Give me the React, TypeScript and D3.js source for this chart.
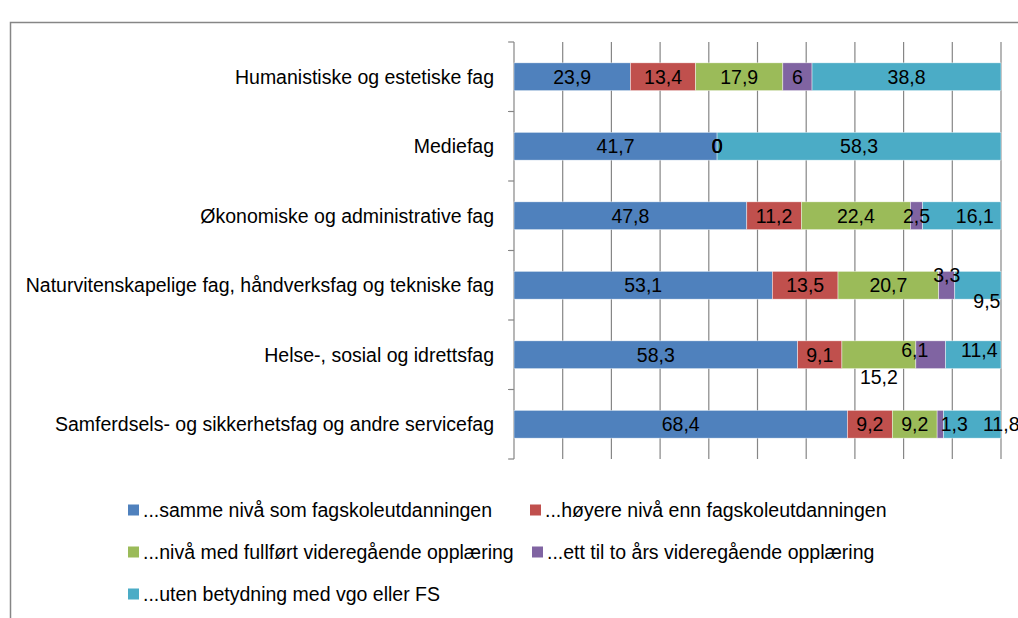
import React, { useEffect, useRef } from "react";
import * as d3 from "d3";

const categories = [
  "Humanistiske og estetiske fag",
  "Mediefag",
  "Økonomiske og administrative fag",
  "Naturvitenskapelige fag, håndverksfag og tekniske fag",
  "Helse-, sosial og idrettsfag",
  "Samferdsels- og sikkerhetsfag og andre servicefag",
];

const seriesNames = [
  "...samme nivå som fagskoleutdanningen",
  "...høyere nivå enn fagskoleutdanningen",
  "...nivå med fullført videregående opplæring",
  "...ett til to års videregående opplæring",
  "...uten betydning med vgo eller FS",
];

const samme = [23.9, 41.7, 47.8, 53.1, 58.3, 68.4];
const hoyere = [13.4, 0, 11.2, 13.5, 9.1, 9.2];
const fullfort = [17.9, 0, 22.4, 20.7, 15.2, 9.2];
const ettTilTo = [6, 0, 2.5, 3.3, 6.1, 1.3];
const utenBetydning = [38.8, 58.3, 16.1, 9.5, 11.4, 11.8];

const colors = ["#4F81BD", "#C0504D", "#9BBB59", "#8064A2", "#4BACC6"];

// manual label nudges (Excel moved some labels to avoid overlap): "row-series" -> [dx, dy]
const labelNudge: Record<string, [number, number]> = {
  "2-4": [13, 0],
  "3-3": [0, -10],
  "3-4": [9, 16],
  "4-2": [0, 22],
  "4-3": [-16, -5],
  "4-4": [6, -5],
  "5-3": [14, 0],
  "5-4": [29, 0],
};

const FONT = "'Liberation Sans', Arial, sans-serif";
const FS = "19.5px";

function App() {
  const ref = useRef<SVGSVGElement>(null);

  useEffect(() => {
    const svg = d3.select(ref.current);
    svg.selectAll("*").remove();

    const width = 1018;
    const height = 618;
    const x0 = 514, x1 = 1001, yTop = 42, yBot = 459;

    svg.attr("width", width).attr("height", height);

    // chart area border
    svg.append("rect")
      .attr("x", 10.5).attr("y", 22.5)
      .attr("width", 1030).attr("height", 620)
      .attr("fill", "#fff").attr("stroke", "#868686").attr("stroke-width", 1.5);

    const series = [samme, hoyere, fullfort, ettTilTo, utenBetydning];
    const rows = categories.map((c, i) => {
      const vals = series.map(s => s[i]);
      return { cat: c, vals, total: d3.sum(vals) };
    });

    const xScale = d3.scaleLinear().domain([0, 100]).range([x0, x1]);
    const yScale = d3.scaleBand().domain(categories).range([yTop, yBot]).paddingInner(0.6).paddingOuter(0.3);
    const yBand = d3.scaleBand().domain(categories).range([yTop, yBot]);

    // gridlines
    svg.append("g").selectAll("line")
      .data(d3.range(10, 101, 10))
      .enter().append("line")
      .attr("x1", d => xScale(d)).attr("x2", d => xScale(d))
      .attr("y1", yTop).attr("y2", yBot)
      .attr("stroke", "#868686").attr("stroke-width", 1.2);

    // left axis with ticks at band boundaries
    svg.append("line")
      .attr("x1", x0).attr("x2", x0).attr("y1", yTop).attr("y2", yBot)
      .attr("stroke", "#868686").attr("stroke-width", 1.2);
    const bounds = categories.map(c => yBand(c) as number).concat([yBot]);
    svg.append("g").selectAll("line")
      .data(bounds)
      .enter().append("line")
      .attr("x1", x0 - 6).attr("x2", x0).attr("y1", d => d).attr("y2", d => d)
      .attr("stroke", "#868686").attr("stroke-width", 1.2);

    // category labels
    svg.append("g").selectAll("text")
      .data(categories)
      .enter().append("text")
      .attr("x", 494)
      .attr("y", d => (yBand(d) as number) + yBand.bandwidth() / 2)
      .attr("dy", "0.35em")
      .attr("text-anchor", "end")
      .style("font-family", FONT).style("font-size", FS).attr("fill", "#000")
      .text(d => d);

    // bars
    const segs: { row: number; s: number; start: number; end: number; v: number; cat: string }[] = [];
    rows.forEach((r, i) => {
      let acc = 0;
      r.vals.forEach((v, s) => {
        const p = (v / r.total) * 100;
        segs.push({ row: i, s, start: acc, end: acc + p, v, cat: r.cat });
        acc += p;
      });
    });

    svg.append("g").selectAll("rect")
      .data(segs.filter(d => d.v > 0))
      .enter().append("rect")
      .attr("x", d => xScale(d.start))
      .attr("y", d => yScale(d.cat) as number)
      .attr("width", d => xScale(d.end) - xScale(d.start))
      .attr("height", yScale.bandwidth())
      .attr("fill", d => colors[d.s])
      .attr("stroke", "#ffffff").attr("stroke-width", 0.6).attr("stroke-opacity", 0.7);

    // data labels
    svg.append("g").selectAll("text")
      .data(segs)
      .enter().append("text")
      .attr("x", d => (xScale(d.start) + xScale(d.end)) / 2 + (labelNudge[`${d.row}-${d.s}`]?.[0] ?? 0))
      .attr("y", d => (yScale(d.cat) as number) + yScale.bandwidth() / 2 + (labelNudge[`${d.row}-${d.s}`]?.[1] ?? 0))
      .attr("dy", "0.35em")
      .attr("text-anchor", "middle")
      .style("font-family", FONT).style("font-size", FS).attr("fill", "#000")
      .text(d => String(d.v).replace(".", ","));

    // legend
    const legendPos = [[128, 510], [530, 510], [128, 552], [532, 552], [128, 594]];
    const lg = svg.append("g").selectAll("g")
      .data(seriesNames)
      .enter().append("g")
      .attr("transform", (d, i) => `translate(${legendPos[i][0]}, ${legendPos[i][1]})`);
    lg.append("rect")
      .attr("x", 0).attr("y", -5.5).attr("width", 11).attr("height", 11)
      .attr("fill", (d, i) => colors[i]);
    lg.append("text")
      .attr("x", 15).attr("y", 0).attr("dy", "0.35em")
      .style("font-family", FONT).style("font-size", FS).attr("fill", "#000")
      .text(d => d);
  }, []);

  return (
    <svg ref={ref} style={{ position: "absolute", left: 0, top: 0 }} />
  );
}

export default App;
